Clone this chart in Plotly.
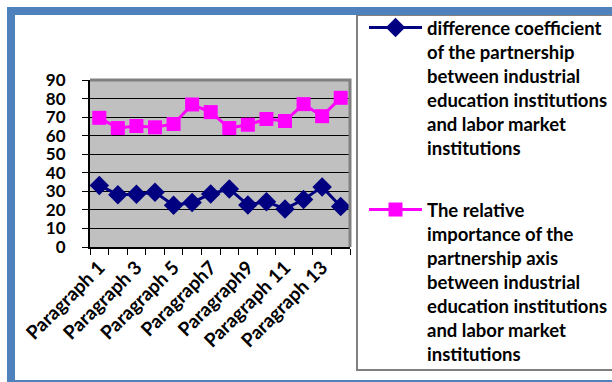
import plotly.graph_objects as go

# ---- data -------------------------------------------------------------
categories = [
    "Paragraph 1", "Paragraph 2", "Paragraph 3", "Paragraph 4", "Paragraph 5",
    "Paragraph 6", "Paragraph7", "Paragraph 8", "Paragraph9", "Paragraph 10",
    "Paragraph 11", "Paragraph 12", "Paragraph 13", "Paragraph 14",
]
difference_coefficient = [33.2, 28.2, 28.4, 29.5, 22.5, 24.0, 28.6,
                          31.3, 22.7, 24.4, 20.5, 25.6, 32.4, 21.8]
relative_importance = [69.6, 64.1, 65.2, 64.5, 66.3, 76.8, 72.7,
                       64.1, 65.9, 69.0, 67.9, 77.0, 70.5, 80.4]
y_tick_values = list(range(0, 91, 10))

name_difference = ("difference coefficient<br>of the partnership<br>between industrial<br>"
                   "education institutions<br>and labor market<br>institutions")
name_importance = ("The relative<br>importance of the<br>partnership axis<br>between industrial<br>"
                   "education institutions<br>and labor market<br>institutions")

# ---- geometry ---------------------------------------------------------
W, H = 612, 382
ML, MR, MT, MB = 90, 262, 80, 135
PW, PH = W - ML - MR, H - MT - MB


def fx(p):
    """pixel column -> paper x"""
    return (p - ML) / PW


def fy(p):
    """pixel row -> paper y"""
    return (H - MB - p) / PH


positions = list(range(1, len(categories) + 1))
FAMILY = "Lato, 'Open Sans', sans-serif"
LEGEND_FONT = dict(family=FAMILY, size=18.5, color="black", weight="bold")
X_TICK_FONT = dict(family=FAMILY, size=19, color="black", weight="bold")
Y_TICK_FONT = dict(family=FAMILY, size=17, color="black", weight="bold")

fig = go.Figure()
fig.add_trace(go.Scatter(
    x=positions, y=difference_coefficient, customdata=categories,
    name=name_difference, legend="legend", mode="lines+markers",
    line=dict(color="#000080", width=3),
    marker=dict(symbol="diamond", size=15, color="#000080"),
    hovertemplate="%{customdata}: %{y}<extra></extra>",
))
fig.add_trace(go.Scatter(
    x=positions, y=relative_importance, customdata=categories,
    name=name_importance, legend="legend2", mode="lines+markers",
    line=dict(color="#FF00FF", width=3),
    marker=dict(symbol="square", size=14, color="#FF00FF"),
    hovertemplate="%{customdata}: %{y}<extra></extra>",
))

# legends are placed in container pixels so they never push the plot margins
legend_common = dict(xref="container", yref="container", x=364 / W, xanchor="left",
                     bgcolor="rgba(0,0,0,0)", borderwidth=0, valign="top",
                     itemwidth=53, font=LEGEND_FONT)

fig.update_layout(
    width=W, height=H,
    margin=dict(l=ML, r=MR, t=MT, b=MB),
    paper_bgcolor="white",
    plot_bgcolor="#C0C0C0",
    font=Y_TICK_FONT,
    showlegend=True,
    legend=dict(y=1 - 9 / H, yanchor="top", **legend_common),
    legend2=dict(y=1 - 373 / H, yanchor="bottom", **legend_common),
    xaxis=dict(
        range=[0.5, len(categories) + 0.5],
        tickmode="array", tickvals=positions[::2], ticktext=categories[::2],
        tickangle=-45, ticks="", showgrid=False, zeroline=False,
        showline=True, linecolor="black", linewidth=2,
        minor=dict(tickmode="linear", tick0=0.5, dtick=1, ticks="outside",
                   ticklen=6, tickcolor="black", tickwidth=1, showgrid=False),
        tickfont=X_TICK_FONT,
    ),
    yaxis=dict(
        range=[0, 90], tickmode="array", tickvals=y_tick_values,
        ticks="outside", ticklen=6, tickcolor="black",
        showgrid=True, gridcolor="black", gridwidth=1, zeroline=False,
        showline=True, linecolor="black", linewidth=2,
        ticklabelstandoff=13, tickfont=Y_TICK_FONT,
    ),
    shapes=[
        # top and right border of the plotting area
        dict(type="path", xref="paper", yref="paper",
             path="M 0,1 L 1,1 L 1,0", line=dict(color="#808080", width=3)),
        # legend box
        dict(type="rect", xref="paper", yref="paper",
             x0=fx(357), x1=fx(650), y0=fy(370), y1=fy(15),
             line=dict(color="#808080", width=2)),
        # outer chart frame
        dict(type="rect", xref="paper", yref="paper",
             x0=fx(11), x1=fx(650), y0=fy(384), y1=fy(11),
             line=dict(color="#4F81BD", width=8)),
    ],
)

fig.write_html("out.html")
